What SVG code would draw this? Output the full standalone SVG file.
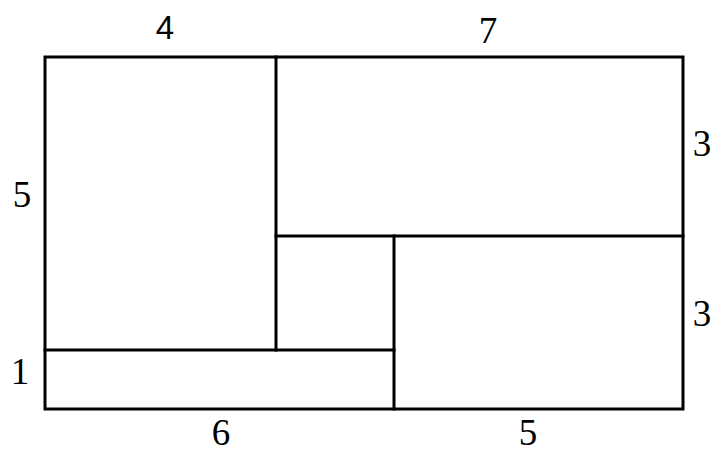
<svg xmlns="http://www.w3.org/2000/svg" width="722" height="469" viewBox="0 0 722 469">
<style>
.l{stroke:#000;stroke-width:3;fill:none;stroke-linecap:square}
.t{font-family:"Liberation Serif","Times New Roman",serif;font-size:37px;fill:#000;text-anchor:middle}
.s{font-family:"Liberation Sans",Arial,sans-serif;font-size:33px;fill:#000;text-anchor:middle}
</style>
<rect width="722" height="469" fill="#fff"/>
<g id="shapes">
<rect class="l" x="45" y="57" width="638" height="352"/>
<line class="l" x1="276" y1="57" x2="276" y2="350"/>
<line class="l" x1="276" y1="236" x2="683" y2="236"/>
<line class="l" x1="394" y1="236" x2="394" y2="409"/>
<line class="l" x1="45" y1="350" x2="394" y2="350"/>
</g>
<g id="labels">
<text class="s" x="165" y="39">4</text>
<text class="t" x="488" y="43">7</text>
<text class="t" x="22" y="207">5</text>
<text class="t" x="20" y="384">1</text>
<text class="t" x="702" y="156">3</text>
<text class="t" x="702" y="326">3</text>
<text class="t" x="221" y="445">6</text>
<text class="t" x="528" y="445">5</text>
</g>
</svg>
